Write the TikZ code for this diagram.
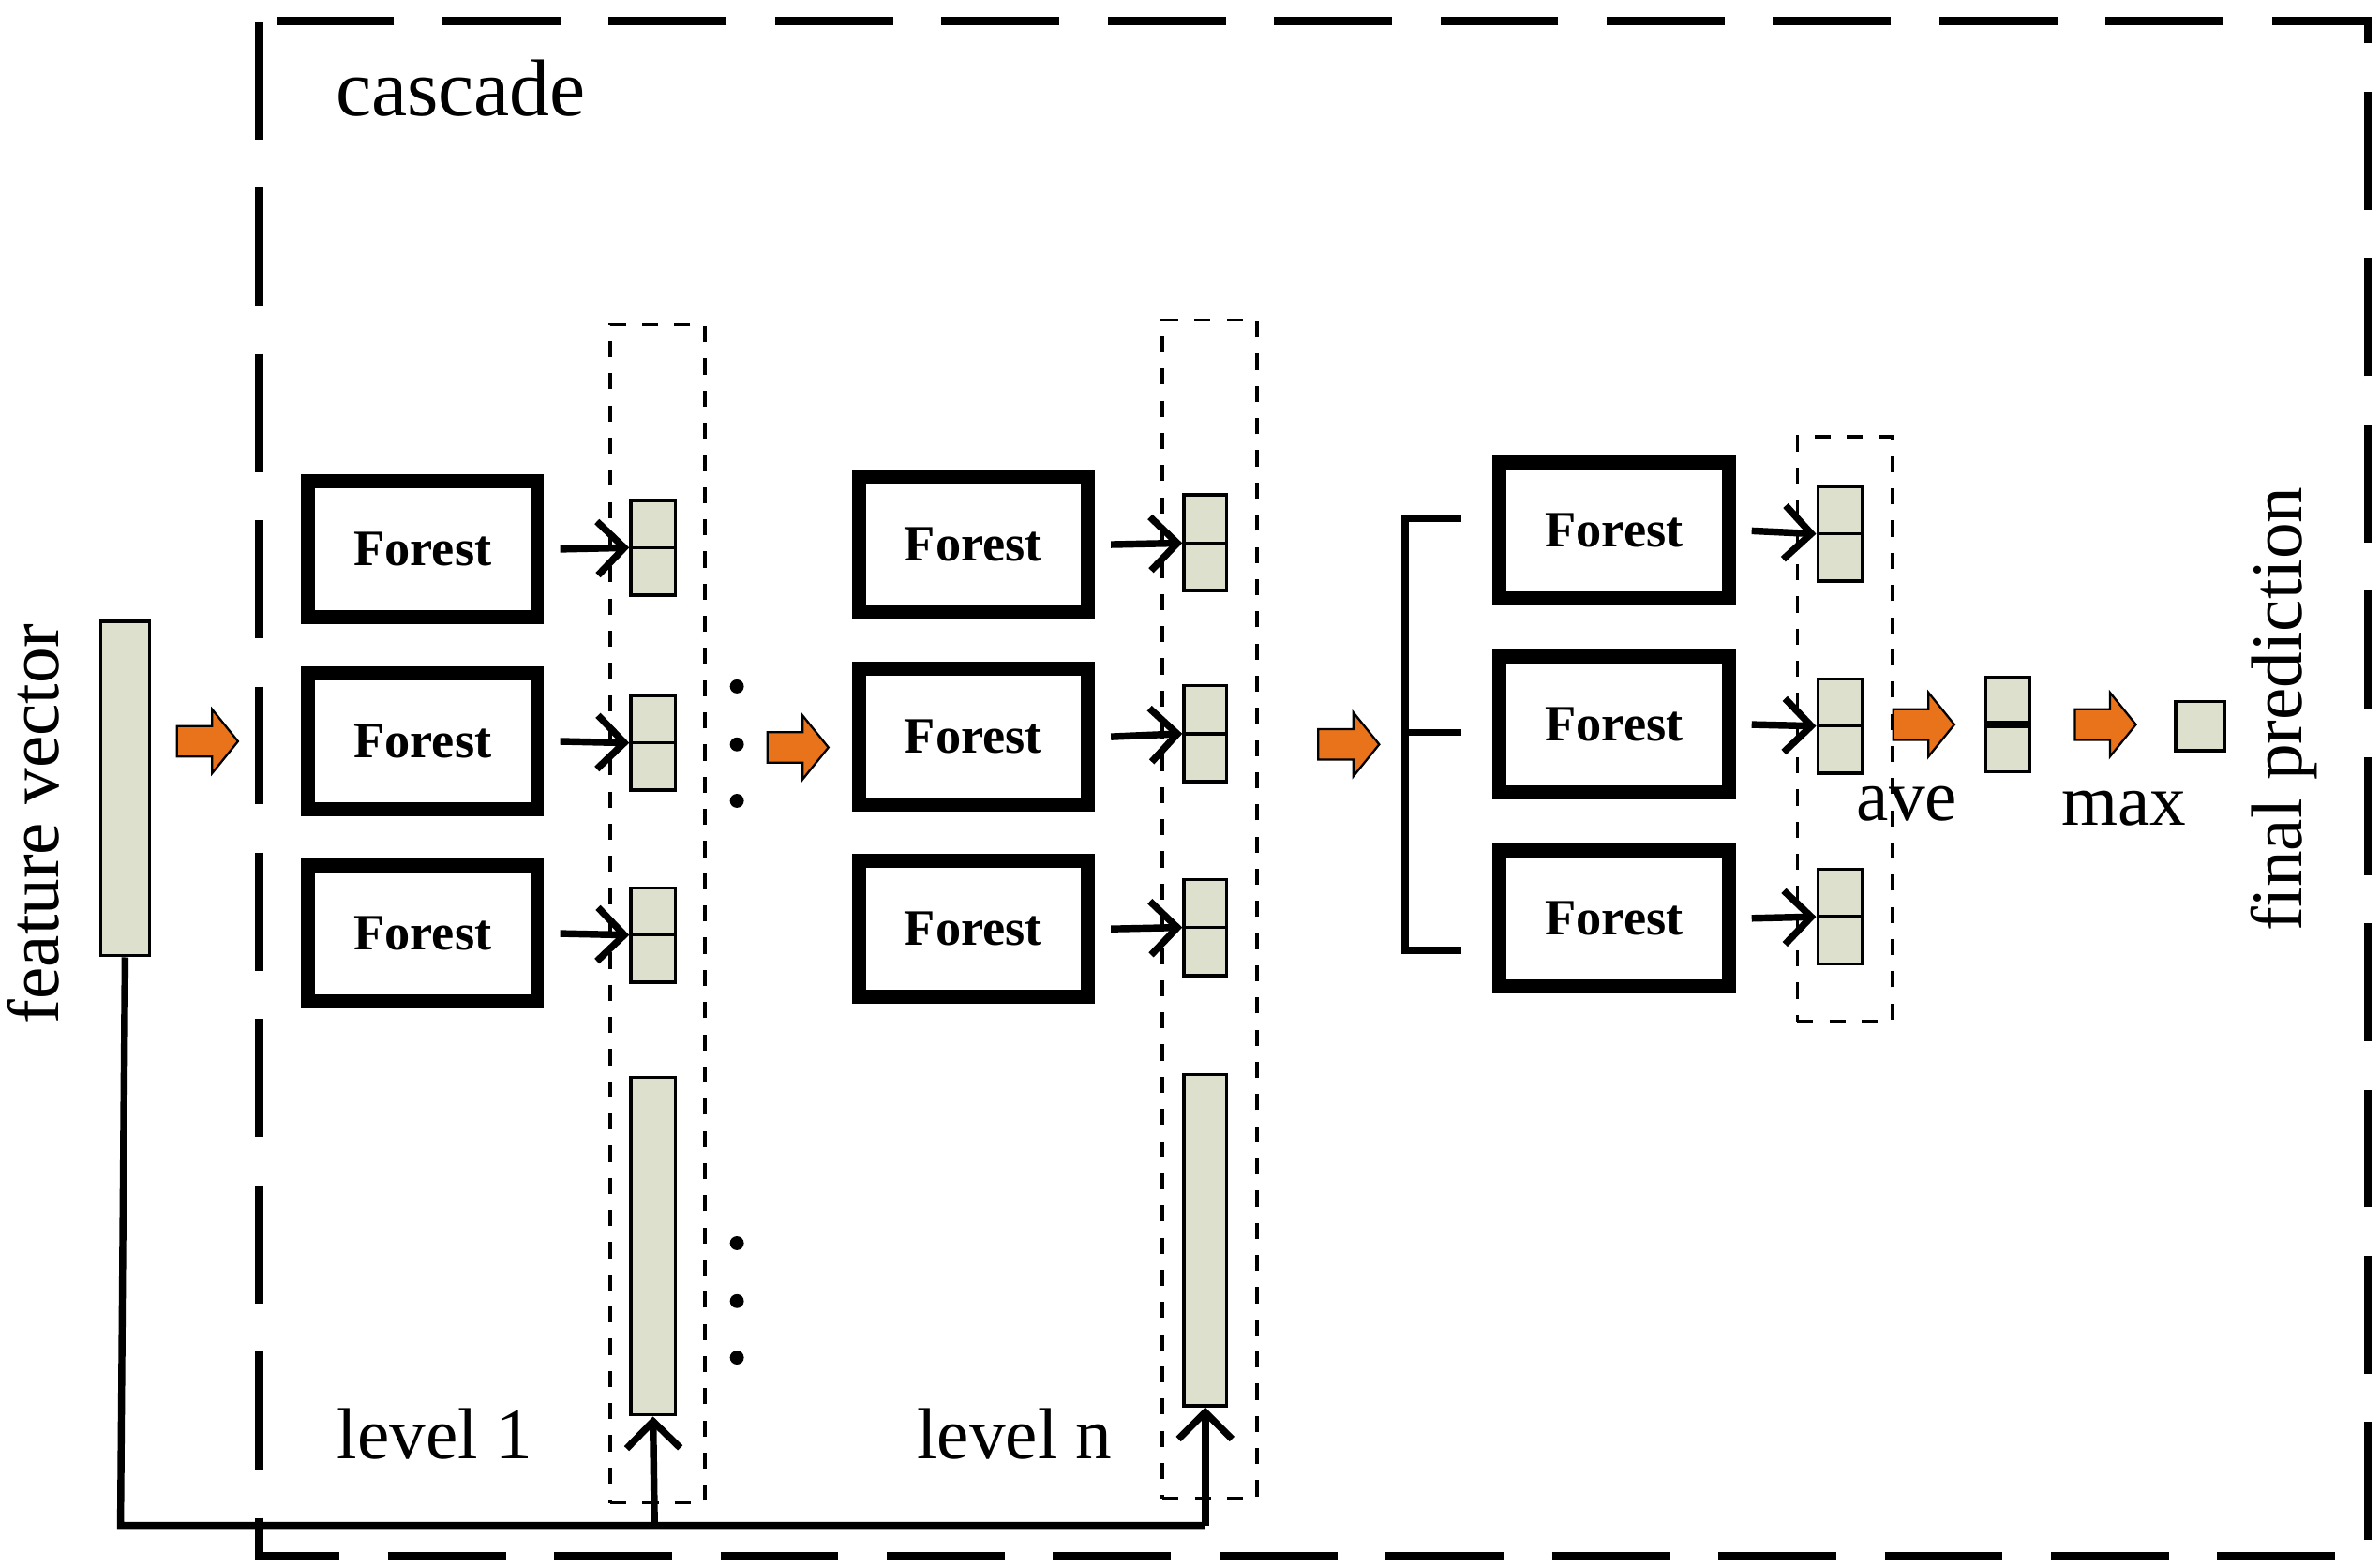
\documentclass[tikz,border=0pt]{standalone}
\usepackage{fontspec}
\setmainfont{Liberation Serif}
\usetikzlibrary{arrows.meta}
\definecolor{cellc}{HTML}{DDE0CC}
\definecolor{orng}{HTML}{E8731A}
\tikzset{
 forest/.style={draw,line width=2.6pt,minimum width=1.50cm,minimum height=0.89cm,font=\fontsize{9.5}{11}\selectfont\bfseries,inner sep=0pt},
 cell/.style={draw,fill=cellc,line width=0.6pt,inner sep=0pt},
 grp/.style={draw,dashed,line width=0.6pt,inner sep=0pt},
 arr/.style={line width=1.3pt,-{Straight Barb[length=5pt,width=10pt,line width=1.3pt]}},
 lbl/.style={font=\fontsize{13.5}{15}\selectfont,inner sep=0pt}
}
\newcommand{\oarr}[3]{% x y name
 \fill[orng,draw=black,line width=0.4pt] (#1-20,#2-10) -- (#1+3,#2-10) -- (#1+3,#2-21) -- (#1+20,#2) -- (#1+3,#2+21) -- (#1+3,#2+10) -- (#1-20,#2+10) -- cycle;
 \coordinate (#3) at (#1,#2);}
\begin{document}
\begin{tikzpicture}[x=0.01cm,y=-0.01cm]
\useasboundingbox (0,0) rectangle (1560,1027);
\draw[line width=1.5pt,dash pattern=on 22pt off 9pt] (170,14) rectangle (1552,1020);
\node[lbl,font=\fontsize{15}{17}\selectfont] (casc) at (302,58) {cascade};
% feature vector
\node[cell,minimum width=0.32cm,minimum height=2.19cm] (fv) at (82,517) {};
\node[lbl,rotate=90] (fvl) at (22,540) {feature vector};
\oarr{136}{486}{o1}
% column 1
\node[grp,minimum width=0.62cm,minimum height=7.72cm] (g1) at (431,599) {};
\foreach \i/\y/\cy in {a/360/359,b/486/487,c/612/613}{
 \node[forest] (f1\i) at (277,\y) {Forest};
 \node[cell,minimum width=0.29cm,minimum height=0.62cm] (c1\i) at (428,\cy) {};
 \draw[line width=0.6pt] (c1\i.west) -- (c1\i.east);
 \draw[arr] ([xshift=3pt]f1\i.east) -- (c1\i.west);
}
\node[cell,minimum width=0.29cm,minimum height=2.21cm] (b1) at (428,817) {};
\foreach \y in {450,488,525,815,853,890}{\fill (483,\y) circle (1.3pt);}
\node[lbl] (l1) at (285,940) {level 1};
\oarr{523}{490}{o2}
% column 2
\node[grp,minimum width=0.62cm,minimum height=7.72cm] (g2) at (793,596) {};
\foreach \i/\y/\cy in {a/357/356,b/483/481,c/609/608}{
 \node[forest] (f2\i) at (638,\y) {Forest};
 \node[cell,minimum width=0.28cm,minimum height=0.63cm] (c2\i) at (790,\cy) {};
 \draw[line width=0.6pt] (c2\i.west) -- (c2\i.east);
 \draw[arr] ([xshift=3pt]f2\i.east) -- (c2\i.west);
}
\node[cell,minimum width=0.28cm,minimum height=2.17cm] (b2) at (790,813) {};
\node[lbl] (ln) at (665,940) {level n};
% feedback
\coordinate (fb0) at (79,1000);
\coordinate (fb1) at (429,1000);
\coordinate (fb2) at (790,1000);
\draw[line width=1.3pt] (fv.south) -- (fb0) -- (fb2);
\draw[arr] (fb1) -- (b1.south);
\draw[arr] (fb2) -- (b2.south);
\oarr{884}{488}{o3}
% bracket
\coordinate (br1) at (921,340); \coordinate (br2) at (921,623);
\draw[line width=1.3pt] (958,340) -- (br1) -- (br2) -- (958,623);
\draw[line width=1.3pt] (921,480) -- (958,480);
% column 3
\node[grp,minimum width=0.62cm,minimum height=3.83cm] (g3) at (1209,478) {};
\foreach \i/\y/\cy in {a/348/350,b/475/476,c/602/601}{
 \node[forest] (f3\i) at (1058,\y) {Forest};
 \node[cell,minimum width=0.29cm,minimum height=0.62cm] (c3\i) at (1206,\cy) {};
 \draw[line width=0.6pt] (c3\i.west) -- (c3\i.east);
 \draw[arr] ([xshift=3pt]f3\i.east) -- (c3\i.west);
}
\oarr{1261}{475}{o4}
\node[cell,minimum width=0.29cm,minimum height=0.62cm] (avb) at (1316,475) {};
\draw[line width=1.5pt] (avb.west) -- (avb.east);
\node[lbl] (ave) at (1250,527) {ave};
\oarr{1380}{475}{o5}
\node[cell,minimum width=0.32cm,minimum height=0.32cm] (fp) at (1442,476) {};
\node[lbl] (max) at (1392,530) {max};
\node[lbl,rotate=90] (fpl) at (1497,465) {final prediction};
\end{tikzpicture}
\end{document}
